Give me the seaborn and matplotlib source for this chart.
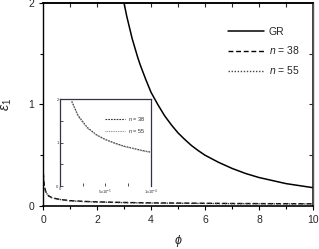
import matplotlib
matplotlib.use("Agg")
import matplotlib.pyplot as plt
import seaborn as sns
import pandas as pd

# ---- data ----
gr_phi = [3.0, 3.1, 3.2, 3.3, 3.4, 3.5, 3.6, 3.8, 4.0, 4.25, 4.5, 4.75, 5.0, 5.25, 5.5, 5.75, 6.0,
          6.5, 7.0, 7.5, 8.0, 8.5, 9.0, 9.5, 10.0]
gr_eps = [2.0, 1.87, 1.76, 1.65, 1.56, 1.47, 1.39, 1.25, 1.12, 1.00, 0.89, 0.80, 0.72, 0.655, 0.595,
          0.545, 0.50, 0.43, 0.37, 0.32, 0.28, 0.25, 0.22, 0.20, 0.18]

n_phi = [0.005, 0.01, 0.03, 0.05, 0.1, 0.2, 0.3, 0.5, 0.75, 1.0, 1.5, 2.0, 3.0, 4.0, 5.0, 6.0, 7.0, 8.0, 9.0, 10.0]
n38_eps = [0.40, 0.32, 0.24, 0.19, 0.14, 0.10, 0.085, 0.07, 0.06, 0.052, 0.045, 0.040, 0.034, 0.030, 0.028, 0.026, 0.024, 0.023, 0.022, 0.021]
n55_eps = [0.39, 0.31, 0.235, 0.185, 0.137, 0.098, 0.083, 0.068, 0.058, 0.050, 0.043, 0.038, 0.032, 0.028, 0.026, 0.024, 0.022, 0.021, 0.020, 0.019]

in_phi = [0.13e-4, 0.2e-4, 0.3e-4, 0.4e-4, 0.5e-4, 0.6e-4, 0.7e-4, 0.8e-4, 0.9e-4, 1.0e-4]
in38_eps = [1.95, 1.62, 1.35, 1.18, 1.07, 0.99, 0.92, 0.87, 0.82, 0.78]
in55_eps = [1.93, 1.60, 1.33, 1.17, 1.06, 0.98, 0.91, 0.86, 0.81, 0.77]

legend_labels = ["GR", r"$n$ = 38", r"$n$ = 55"]
main_xticks = [0, 2, 4, 6, 8, 10]
main_yticks = [0, 1, 2]
inset_xticks = [0, 5e-5, 1e-4]
inset_xticklabels = ["0", r"5x10$^{-5}$", r"1x10$^{-4}$"]
inset_yticks = [0, 1, 2]

sns.set_theme(style="ticks")
plt.rcParams["font.family"] = ["Liberation Sans", "DejaVu Sans"]
plt.rcParams["mathtext.fontset"] = "custom"
plt.rcParams["mathtext.it"] = "Liberation Sans:italic"
plt.rcParams["mathtext.rm"] = "Liberation Sans"

fig = plt.figure(figsize=(3.19, 2.49), dpi=100)
ax = fig.add_axes([0.135, 0.173, 0.846, 0.815])

gr_df = pd.DataFrame({"phi": gr_phi, "eps": gr_eps})
n38_df = pd.DataFrame({"phi": n_phi, "eps": n38_eps})
n55_df = pd.DataFrame({"phi": n_phi, "eps": n55_eps})

sns.lineplot(data=gr_df, x="phi", y="eps", ax=ax, color="black", lw=1.1, label=legend_labels[0])
sns.lineplot(data=n38_df, x="phi", y="eps", ax=ax, color="black", lw=1.0,
             linestyle=(0, (3.5, 2)), label=legend_labels[1])
sns.lineplot(data=n55_df, x="phi", y="eps", ax=ax, color="#444444", lw=1.0,
             linestyle=(0, (1, 1.2)), label=legend_labels[2])

ax.set_xlim(0, 10)
ax.set_ylim(0, 2)
ax.set_xticks(main_xticks)
ax.set_yticks(main_yticks)
ax.set_xticks([1, 3, 5, 7, 9], minor=True)
ax.set_yticks([0.5, 1.5], minor=True)
ax.tick_params(axis="both", which="both", labelsize=7.5, width=0.8, color="black",
               direction="out", top=False, right=False)
ax.tick_params(which="major", length=3)
ax.tick_params(which="minor", length=2)
for s in ax.spines.values():
    s.set_linewidth(1.0)
    s.set_color("black")
ax.spines["right"].set_color("#555555")
ax.spines["top"].set_linewidth(1.2)
ax.spines["bottom"].set_linewidth(1.2)
# top/right inward ticks
ax2 = ax.secondary_xaxis("top")
ax2.set_xticks([1, 2, 3, 4, 5, 6, 7, 8, 9])
ax2.tick_params(direction="in", length=3, width=0.8, labeltop=False)
ax3 = ax.secondary_yaxis("right")
ax3.set_yticks([0.5, 1, 1.5])
ax3.tick_params(direction="in", length=3, width=0.8, labelright=False)

ax.set_xlabel(r"$\phi$", fontsize=9, labelpad=6)
ax.set_ylabel(r"$\varepsilon_1$", fontsize=10, labelpad=10)

leg = ax.legend(loc="upper right", bbox_to_anchor=(0.985, 0.93), frameon=False,
                fontsize=7.5, handlelength=3.4, handletextpad=0.5, labelspacing=0.75)

# inset
ins = fig.add_axes([0.188, 0.253, 0.285, 0.349])
i38 = pd.DataFrame({"phi": in_phi, "eps": in38_eps})
i55 = pd.DataFrame({"phi": in_phi, "eps": in55_eps})
sns.lineplot(data=i38, x="phi", y="eps", ax=ins, color="#333333", lw=0.8,
             linestyle=(0, (1.5, 1)), label=legend_labels[1])
sns.lineplot(data=i55, x="phi", y="eps", ax=ins, color="#888888", lw=0.8,
             linestyle=(0, (0.8, 0.8)), label=legend_labels[2])
ins.set_xlim(0, 1e-4)
ins.set_ylim(0, 2)
ins.set_xticks(inset_xticks)
ins.set_xticklabels(inset_xticklabels)
ins.set_xticks([2.5e-5, 7.5e-5], minor=True)
ins.set_yticks(inset_yticks)
ins.set_yticks([0.5, 1.5], minor=True)
ins.tick_params(which="both", direction="in", labelsize=3, length=2, width=0.6, pad=1,
                colors="#333333")
ins.set_xlabel("")
ins.set_ylabel("")
ins.spines["bottom"].set_visible(False)
for k in ["left", "top", "right"]:
    ins.spines[k].set_linewidth(0.9)
    ins.spines[k].set_color("#333344")
ins.legend(loc="upper right", bbox_to_anchor=(0.99, 0.88), frameon=False, fontsize=4,
           handlelength=3.5, handletextpad=0.5, labelspacing=0.8)

fig.savefig("out.png", dpi=100)
